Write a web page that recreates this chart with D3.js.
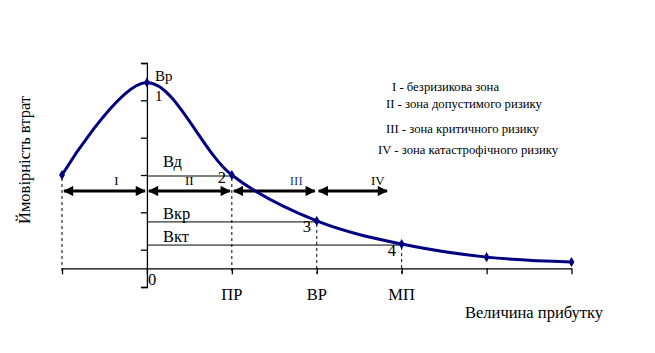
<!DOCTYPE html>
<html><head><meta charset="utf-8">
<script src="https://cdn.jsdelivr.net/npm/d3@7"></script>
<style>body{margin:0;background:#fff}svg{display:block}text{font-family:"Liberation Serif","Times New Roman",serif}</style>
</head><body><svg id="c" width="655" height="353"></svg>
<script>
const xValues = [-1, 0, 1, 2, 3, 4, 5];
const yValues = [3, 5.48, 3, 1.77, 1.15, 0.8, 0.67];
const xTickLabels = ["", "0", "ПР", "ВР", "МП", "", ""];
const zones = [{from:-1,to:0,label:"I",dx:12},{from:0,to:1,label:"II",dx:0},{from:1,to:2,label:"III",dx:22},{from:2,to:2.85,label:"IV",dx:25}];
const levels = [{label:"Вд", idx:2, num:"2", ly:-8, ny:8},{label:"Вкр", idx:3, num:"3", ly:-2, ny:11},{label:"Вкт", idx:4, num:"4", ly:-2, ny:12}];
const legendItems = ["I - безризикова зона","II - зона допустимого ризику","III - зона критичного ризику","IV - зона катастрофічного ризику"];

const svg = d3.select("#c");
const FF = "Liberation Serif";
const x = d3.scaleLinear().domain([-1,5]).range([62,571.5]);
const y = d3.scaleLinear().domain([0,6]).range([287,63]);
const axisY = y(0.5);

svg.append("g").attr("transform",`translate(${x(0)},0)`)
  .call(d3.axisLeft(y).tickValues(d3.range(0,7)).tickSize(6).tickFormat(""))
  .call(g=>g.select(".domain").attr("stroke","#000").attr("stroke-width",1.3))
  .call(g=>g.selectAll(".tick line").attr("stroke","#000").attr("stroke-width",1.3));
svg.append("g").attr("transform",`translate(0,${axisY})`)
  .call(d3.axisBottom(x).tickValues(xValues).tickSize(6).tickSizeOuter(0).tickFormat(""))
  .call(g=>g.select(".domain").attr("stroke","#000").attr("stroke-width",1.3))
  .call(g=>g.selectAll(".tick line").attr("stroke","#000").attr("stroke-width",1.3));

svg.selectAll(".xl").data(xTickLabels.map((t,i)=>({t,v:xValues[i]})).filter(d=>d.t)).enter()
  .append("text").attr("font-family",FF).attr("font-size",16.5)
  .attr("x",d=>d.t==="0"? x(d.v)+1 : x(d.v))
  .attr("y",d=>d.t==="0"? axisY+17 : axisY+32)
  .attr("text-anchor",d=>d.t==="0"?"start":"middle")
  .text(d=>d.t);

const dashIdx=[0,2,3,4];
svg.selectAll(".dash").data(dashIdx).enter().append("line")
  .attr("x1",i=>x(xValues[i])).attr("x2",i=>x(xValues[i]))
  .attr("y1",i=>y(yValues[i])+3).attr("y2",axisY+5)
  .attr("stroke","#000").attr("stroke-width",1).attr("stroke-dasharray","3,3");

svg.selectAll(".lvl").data(levels).enter().append("line")
  .attr("x1",x(0)).attr("x2",d=>x(xValues[d.idx]))
  .attr("y1",d=>y(yValues[d.idx])+1).attr("y2",d=>y(yValues[d.idx])+1)
  .attr("stroke","#000").attr("stroke-width",1);

const defs = svg.append("defs");
defs.append("marker").attr("id","ah").attr("viewBox","0 0 10 10").attr("refX",9).attr("refY",5)
  .attr("markerWidth",4.2).attr("markerHeight",3.4).attr("markerUnits","strokeWidth").attr("orient","auto-start-reverse")
  .append("path").attr("d","M0,0L10,5L0,10z").attr("fill","#000");
const arrowY = 191;
svg.selectAll(".zone").data(zones).enter().append("line")
  .attr("x1",d=>x(d.from)+2).attr("x2",d=>x(d.to)-2)
  .attr("y1",arrowY).attr("y2",arrowY)
  .attr("stroke","#000").attr("stroke-width",3)
  .attr("marker-start","url(#ah)").attr("marker-end","url(#ah)");
svg.selectAll(".zl").data(zones).enter().append("text")
  .attr("font-family",FF)
  .attr("x",d=>(x(d.from)+x(d.to))/2+d.dx)
  .attr("y",arrowY-6).attr("text-anchor","middle").attr("font-size",13)
  .attr("fill",(d,i)=>i===2?"#1f3f6f":"#000")
  .text(d=>d.label);

const pts = xValues.map((v,i)=>[x(v),y(yValues[i])]);
svg.append("path").attr("d",d3.line().curve(d3.curveCatmullRom.alpha(0.5))(pts))
  .attr("fill","none").attr("stroke","#000080").attr("stroke-width",3);
svg.selectAll(".pt").data(pts).enter().append("path")
  .attr("transform",d=>`translate(${d[0]},${d[1]})`)
  .attr("d",d3.symbol(d3.symbolDiamond,30)).attr("fill","#000080");

svg.append("text").attr("font-family",FF).attr("x",x(0)+8).attr("y",y(yValues[1])-1).attr("font-size",15).text("Вр");
svg.append("text").attr("font-family",FF).attr("x",x(0)+8).attr("y",y(yValues[1])+19).attr("font-size",15).text("1");
levels.forEach(d=>{
  const py=y(yValues[d.idx]);
  svg.append("text").attr("font-family",FF).attr("x",x(0)+16).attr("y",py+d.ly).attr("font-size",16.5).text(d.label);
  svg.append("text").attr("font-family",FF).attr("x",x(xValues[d.idx])-14).attr("y",py+d.ny).attr("font-size",16.5).text(d.num);
});

const legX=[392,386,386,378], legY=[91,108,133,154];
svg.selectAll(".leg").data(legendItems).enter().append("text").attr("font-family",FF)
  .attr("x",(d,i)=>legX[i]).attr("y",(d,i)=>legY[i]).attr("font-size",12.7).text(d=>d);

svg.append("text").attr("font-family",FF).attr("x",465).attr("y",318).attr("font-size",16.5).text("Величина прибутку");
svg.append("text").attr("font-family",FF).attr("transform","translate(30,160) rotate(-90)").attr("text-anchor","middle")
  .attr("font-size",16.5).text("Ймовірність втрат");
</script></body></html>
